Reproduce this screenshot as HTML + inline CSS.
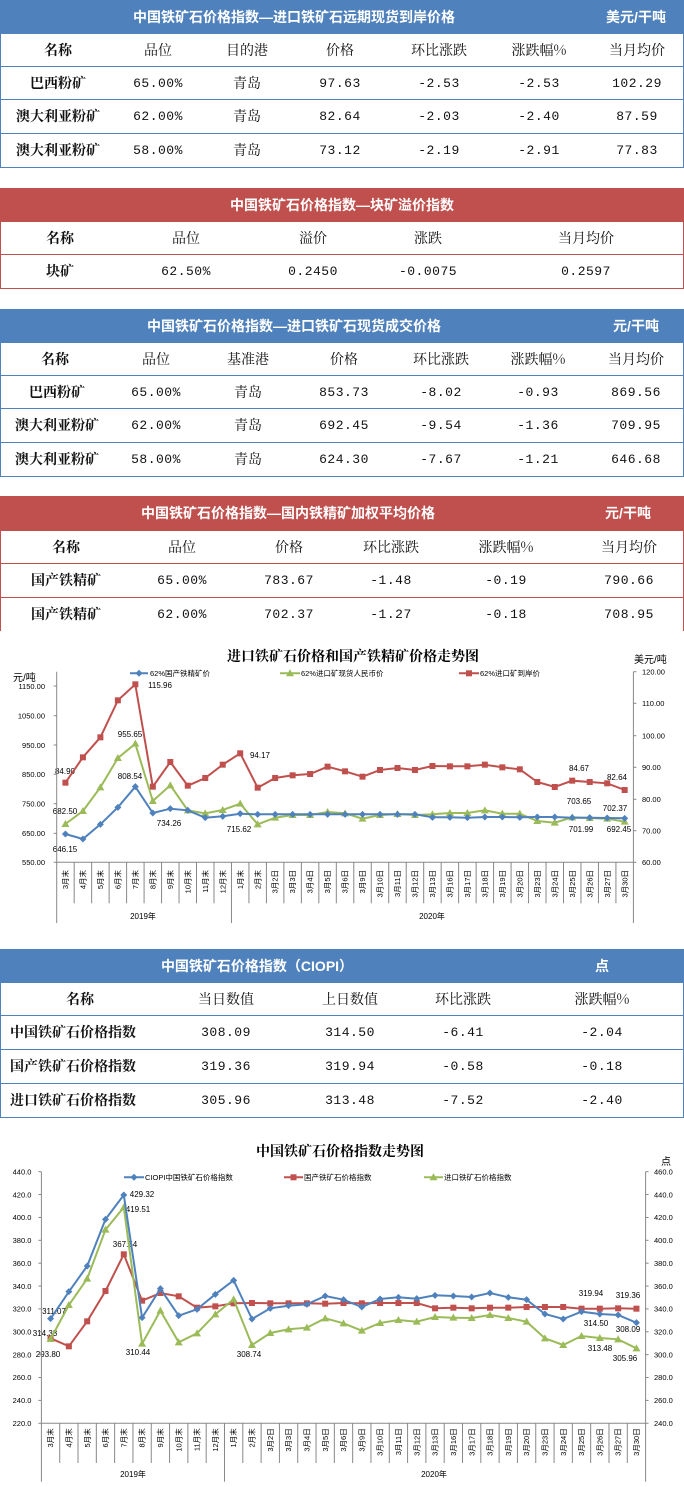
<!DOCTYPE html>
<html><head><meta charset="utf-8">
<style>
*{margin:0;padding:0;box-sizing:border-box}
body{width:684px;height:1487px;background:#fff;position:relative;overflow:hidden;font-family:"Liberation Serif","Noto Serif CJK SC",serif}
.hb{position:absolute;left:0;width:684px;height:34px;color:#fff;font-family:"Liberation Sans","Noto Sans CJK SC",sans-serif;font-weight:bold;font-size:14px}
.blue{background:#4f81bd}.red{background:#c0504d}
.hb span{position:absolute;top:0;line-height:34px;white-space:nowrap;transform:translateX(-50%)}
.row{position:absolute;left:0;width:684px;height:34px;border-left:1px solid;border-right:1px solid;border-bottom:1px solid}
.rb{border-color:#4f81bd}.rr{border-color:#c0504d}
.row span{position:absolute;top:0;line-height:33px;white-space:nowrap;transform:translateX(-50%);font-size:14px;color:#111;font-family:"Noto Serif CJK SC","Noto Sans CJK SC",serif}
.row span.n{font-family:"Liberation Mono","Noto Serif CJK SC",monospace;font-size:13px;letter-spacing:0.5px}
.row span.b{font-weight:bold;font-family:"Noto Serif CJK SC",serif}
.row span.l{transform:none}
svg text{font-family:"Liberation Sans","Noto Sans CJK SC",sans-serif}
</style></head><body>

<!-- Table 1 -->
<div class="hb blue" style="top:0"><span style="left:294px">中国铁矿石价格指数—进口铁矿石远期现货到岸价格</span><span style="left:636px">美元/干吨</span></div>
<div class="row rb" style="top:34px;height:33px"><span class="b" style="left:57px">名称</span><span style="left:157px">品位</span><span style="left:246px">目的港</span><span style="left:339px">价格</span><span style="left:438px">环比涨跌</span><span style="left:538px">涨跌幅%</span><span style="left:636px">当月均价</span></div>
<div class="row rb" style="top:67px;height:33px"><span class="b" style="left:57px">巴西粉矿</span><span class="n" style="left:157px">65.00%</span><span style="left:246px">青岛</span><span class="n" style="left:339px">97.63</span><span class="n" style="left:438px">-2.53</span><span class="n" style="left:538px">-2.53</span><span class="n" style="left:636px">102.29</span></div>
<div class="row rb" style="top:100px;height:34px"><span class="b" style="left:57px">澳大利亚粉矿</span><span class="n" style="left:157px">62.00%</span><span style="left:246px">青岛</span><span class="n" style="left:339px">82.64</span><span class="n" style="left:438px">-2.03</span><span class="n" style="left:538px">-2.40</span><span class="n" style="left:636px">87.59</span></div>
<div class="row rb" style="top:134px;height:34px"><span class="b" style="left:57px">澳大利亚粉矿</span><span class="n" style="left:157px">58.00%</span><span style="left:246px">青岛</span><span class="n" style="left:339px">73.12</span><span class="n" style="left:438px">-2.19</span><span class="n" style="left:538px">-2.91</span><span class="n" style="left:636px">77.83</span></div>

<!-- Table 2 -->
<div class="hb red" style="top:188px"><span style="left:342px">中国铁矿石价格指数—块矿溢价指数</span></div>
<div class="row rr" style="top:222px;height:33px"><span class="b" style="left:59px">名称</span><span style="left:185px">品位</span><span style="left:312px">溢价</span><span style="left:427px">涨跌</span><span style="left:585px">当月均价</span></div>
<div class="row rr" style="top:255px;height:34px"><span class="b" style="left:59px">块矿</span><span class="n" style="left:185px">62.50%</span><span class="n" style="left:312px">0.2450</span><span class="n" style="left:427px">-0.0075</span><span class="n" style="left:585px">0.2597</span></div>

<!-- Table 3 -->
<div class="hb blue" style="top:309px"><span style="left:294px">中国铁矿石价格指数—进口铁矿石现货成交价格</span><span style="left:636px">元/干吨</span></div>
<div class="row rb" style="top:343px;height:33px"><span class="b" style="left:54px">名称</span><span style="left:155px">品位</span><span style="left:247px">基准港</span><span style="left:343px">价格</span><span style="left:440px">环比涨跌</span><span style="left:537px">涨跌幅%</span><span style="left:635px">当月均价</span></div>
<div class="row rb" style="top:376px;height:33px"><span class="b" style="left:56px">巴西粉矿</span><span class="n" style="left:155px">65.00%</span><span style="left:247px">青岛</span><span class="n" style="left:343px">853.73</span><span class="n" style="left:440px">-8.02</span><span class="n" style="left:537px">-0.93</span><span class="n" style="left:635px">869.56</span></div>
<div class="row rb" style="top:409px;height:34px"><span class="b" style="left:56px">澳大利亚粉矿</span><span class="n" style="left:155px">62.00%</span><span style="left:247px">青岛</span><span class="n" style="left:343px">692.45</span><span class="n" style="left:440px">-9.54</span><span class="n" style="left:537px">-1.36</span><span class="n" style="left:635px">709.95</span></div>
<div class="row rb" style="top:443px;height:34px"><span class="b" style="left:56px">澳大利亚粉矿</span><span class="n" style="left:155px">58.00%</span><span style="left:247px">青岛</span><span class="n" style="left:343px">624.30</span><span class="n" style="left:440px">-7.67</span><span class="n" style="left:537px">-1.21</span><span class="n" style="left:635px">646.68</span></div>

<!-- Table 4 -->
<div class="hb red" style="top:496px;height:35px"><span style="left:288px;line-height:35px">中国铁矿石价格指数—国内铁精矿加权平均价格</span><span style="left:628px;line-height:35px">元/干吨</span></div>
<div class="row rr" style="top:531px;height:33px"><span class="b" style="left:65px">名称</span><span style="left:181px">品位</span><span style="left:288px">价格</span><span style="left:390px">环比涨跌</span><span style="left:505px">涨跌幅%</span><span style="left:628px">当月均价</span></div>
<div class="row rr" style="top:564px;height:34px"><span class="b" style="left:65px">国产铁精矿</span><span class="n" style="left:181px">65.00%</span><span class="n" style="left:288px">783.67</span><span class="n" style="left:390px">-1.48</span><span class="n" style="left:505px">-0.19</span><span class="n" style="left:628px">790.66</span></div>
<div class="row rr" style="top:598px;height:33px;border-bottom:none"><span class="b" style="left:65px">国产铁精矿</span><span class="n" style="left:181px">62.00%</span><span class="n" style="left:288px">702.37</span><span class="n" style="left:390px">-1.27</span><span class="n" style="left:505px">-0.18</span><span class="n" style="left:628px">708.95</span></div>

<!-- Chart 1 -->
<svg id="c1" style="position:absolute;left:0;top:630px" width="684" height="310" viewBox="0 0 684 310">
<text x="353" y="31" text-anchor="middle" font-size="14" font-weight="bold" style="font-family:'Noto Serif CJK SC',serif">进口铁矿石价格和国产铁精矿价格走势图</text>
<text x="13" y="51" font-size="10">元/吨</text>
<text x="634" y="33" font-size="10">美元/吨</text>
<g font-size="7.5" text-anchor="end">
<text x="45" y="59">1150.00</text><text x="45" y="88.5">1050.00</text><text x="45" y="118">950.00</text><text x="45" y="147">850.00</text><text x="45" y="176.5">750.00</text><text x="45" y="206">650.00</text><text x="45" y="235">550.00</text>
</g>
<g font-size="7.5">
<text x="642" y="44.5">120.00</text><text x="642" y="76">110.00</text><text x="642" y="108.5">100.00</text><text x="642" y="140">90.00</text><text x="642" y="172">80.00</text><text x="642" y="203.5">70.00</text><text x="642" y="235">60.00</text>
</g>
<g font-size="7.5" class="cat">
<text>3月末</text><text>4月末</text><text>5月末</text><text>6月末</text><text>7月末</text><text>8月末</text><text>9月末</text><text>10月末</text><text>11月末</text><text>12月末</text><text>1月末</text><text>2月末</text><text>3月2日</text><text>3月3日</text><text>3月4日</text><text>3月5日</text><text>3月6日</text><text>3月9日</text><text>3月10日</text><text>3月11日</text><text>3月12日</text><text>3月13日</text><text>3月16日</text><text>3月17日</text><text>3月18日</text><text>3月19日</text><text>3月20日</text><text>3月23日</text><text>3月24日</text><text>3月25日</text><text>3月26日</text><text>3月27日</text><text>3月30日</text>
</g>
<text x="143" y="289" font-size="8" text-anchor="middle">2019年</text>
<text x="432" y="289" font-size="8" text-anchor="middle">2020年</text>
<g font-size="7.5">
<text x="150" y="46">62%国产铁精矿价</text>
<text x="301" y="46">62%进口矿现货人民币价</text>
<text x="480" y="46">62%进口矿到岸价</text>
</g>
<g font-size="8" text-anchor="middle">
<text x="65" y="144">84.90</text><text x="65" y="184">682.50</text><text x="65" y="222">646.15</text>
<text x="130" y="107">955.65</text><text x="160" y="58">115.96</text><text x="130" y="149">808.54</text>
<text x="169" y="196">734.26</text><text x="260" y="128">94.17</text><text x="239" y="202">715.62</text>
<text x="579" y="141">84.67</text><text x="579" y="174">703.65</text><text x="581" y="202">701.99</text>
<text x="617" y="150">82.64</text><text x="615" y="181">702.37</text><text x="619" y="202">692.45</text>
</g>
</svg>

<!-- Table 5 -->
<div class="hb blue" style="top:949px"><span style="left:257px">中国铁矿石价格指数（CIOPI）</span><span style="left:602px">点</span></div>
<div class="row rb" style="top:983px;height:33px"><span class="b" style="left:79px">名称</span><span style="left:225px">当日数值</span><span style="left:349px">上日数值</span><span style="left:462px">环比涨跌</span><span style="left:601px">涨跌幅%</span></div>
<div class="row rb" style="top:1016px;height:34px"><span class="b l" style="left:9px">中国铁矿石价格指数</span><span class="n" style="left:225px">308.09</span><span class="n" style="left:349px">314.50</span><span class="n" style="left:462px">-6.41</span><span class="n" style="left:601px">-2.04</span></div>
<div class="row rb" style="top:1050px;height:34px"><span class="b l" style="left:9px">国产铁矿石价格指数</span><span class="n" style="left:225px">319.36</span><span class="n" style="left:349px">319.94</span><span class="n" style="left:462px">-0.58</span><span class="n" style="left:601px">-0.18</span></div>
<div class="row rb" style="top:1084px;height:34px"><span class="b l" style="left:9px">进口铁矿石价格指数</span><span class="n" style="left:225px">305.96</span><span class="n" style="left:349px">313.48</span><span class="n" style="left:462px">-7.52</span><span class="n" style="left:601px">-2.40</span></div>

<!-- Chart 2 -->
<svg id="c2" style="position:absolute;left:0;top:1135px" width="684" height="352" viewBox="0 0 684 352">
<text x="340" y="21" text-anchor="middle" font-size="14" font-weight="bold" style="font-family:'Noto Serif CJK SC',serif">中国铁矿石价格指数走势图</text>
<text x="666" y="30" font-size="10" text-anchor="middle">点</text>
<g font-size="7.5" text-anchor="end" class="tl">
<text>440.0</text><text>420.0</text><text>400.0</text><text>380.0</text><text>360.0</text><text>340.0</text><text>320.0</text><text>300.0</text><text>280.0</text><text>260.0</text><text>240.0</text><text>220.0</text>
</g>
<g font-size="7.5" class="tr">
<text>460.0</text><text>440.0</text><text>420.0</text><text>400.0</text><text>380.0</text><text>360.0</text><text>340.0</text><text>320.0</text><text>300.0</text><text>280.0</text><text>260.0</text><text>240.0</text>
</g>
<g font-size="7.5" class="cat">
<text>3月末</text><text>4月末</text><text>5月末</text><text>6月末</text><text>7月末</text><text>8月末</text><text>9月末</text><text>10月末</text><text>11月末</text><text>12月末</text><text>1月末</text><text>2月末</text><text>3月2日</text><text>3月3日</text><text>3月4日</text><text>3月5日</text><text>3月6日</text><text>3月9日</text><text>3月10日</text><text>3月11日</text><text>3月12日</text><text>3月13日</text><text>3月16日</text><text>3月17日</text><text>3月18日</text><text>3月19日</text><text>3月20日</text><text>3月23日</text><text>3月24日</text><text>3月25日</text><text>3月26日</text><text>3月27日</text><text>3月30日</text>
</g>
<text x="133" y="342" font-size="8" text-anchor="middle">2019年</text>
<text x="434" y="342" font-size="8" text-anchor="middle">2020年</text>
<g font-size="7.5">
<text x="145" y="45">CIOPI中国铁矿石价格指数</text>
<text x="304" y="45">国产铁矿石价格指数</text>
<text x="444" y="45">进口铁矿石价格指数</text>
</g>
<g font-size="8" text-anchor="middle">
<text x="54" y="179">311.07</text><text x="45" y="201">314.33</text><text x="48" y="222">293.80</text>
<text x="142" y="62">429.32</text><text x="138" y="77">419.51</text><text x="125" y="112">367.54</text>
<text x="138" y="220">310.44</text><text x="249" y="222">308.74</text>
<text x="591" y="161">319.94</text><text x="596" y="191">314.50</text><text x="600" y="216">313.48</text>
<text x="625" y="226">305.96</text><text x="628" y="163">319.36</text><text x="628" y="197">308.09</text>
</g>
</svg>

<script>
var NS="http://www.w3.org/2000/svg";
function el(p,t,a){var e=document.createElementNS(NS,t);for(var k in a)e.setAttribute(k,a[k]);p.appendChild(e);return e;}
function mk(g,type,x,y,c){
 if(type=='s')el(g,'rect',{x:x-3,y:y-3,width:6,height:6,fill:c});
 else if(type=='d')el(g,'polygon',{points:(x)+','+(y-3.5)+' '+(x+3.5)+','+y+' '+x+','+(y+3.5)+' '+(x-3.5)+','+y,fill:c});
 else el(g,'polygon',{points:x+','+(y-4)+' '+(x+4)+','+(y+3)+' '+(x-4)+','+(y+3),fill:c});
}
function series(svg,x0,w,ys,c,type){
 var g=el(svg,'g',{});var pts=[];
 ys.forEach(function(zy,i){pts.push((x0+w*(i+0.5)).toFixed(1)+','+(zy/3).toFixed(1));});
 el(g,'polyline',{points:pts.join(' '),fill:'none',stroke:c,'stroke-width':2});
 ys.forEach(function(zy,i){mk(g,type,x0+w*(i+0.5),zy/3,c);});
}
function frame(svg,x0,x1,top,plotB,catB,botB,ticksL,ticksR){
 var g=el(svg,'g',{stroke:'#888','stroke-width':1,fill:'none'});
 el(g,'line',{x1:x0,y1:top,x2:x0,y2:botB});
 el(g,'line',{x1:x1,y1:top,x2:x1,y2:botB});
 el(g,'line',{x1:x0,y1:plotB,x2:x1,y2:plotB});
 var w=(x1-x0)/33;
 for(var k=1;k<33;k++){var x=x0+w*k;el(g,'line',{x1:x,y1:plotB,x2:x,y2:(k==10?botB:catB)});}
 ticksL.forEach(function(y){el(g,'line',{x1:x0-3,y1:y,x2:x0,y2:y});});
 ticksR.forEach(function(y){el(g,'line',{x1:x1,y1:y,x2:x1+3,y2:y});});
 return w;
}
function cats(svg,x0,w,top){
 var ts=svg.querySelectorAll('.cat text');
 ts.forEach(function(t,i){var x=x0+w*(i+0.5)+2.6;t.setAttribute('transform','translate('+x.toFixed(1)+','+top+') rotate(-90)');t.setAttribute('text-anchor','end');});
}
var B='#4f81bd',R='#c0504d',G='#9bbb59';
// chart 1
var c1=document.getElementById('c1');
var w1=frame(c1,56.7,633.4,41.7,232.3,273.3,293,[56,85.7,115,144.3,173.7,203.3,232.3],[41.7,73.3,105.7,137.3,169.3,200.7,232.3]);
cats(c1,56.7,w1,240);
series(c1,56.7,w1,[458,382,322,211,163,470,396,467,444,404,370,473,444,436,432,410,424,440,420,414,420,408,409,409,404,412,418,456,471,452,456,460,480],R,'s');
series(c1,56.7,w1,[582,543,472,384,341,513,466,541,550,540,521,583,563,555,555,546,550,566,555,552,555,553,549,549,541,551,551,573,578,562,564,566,575],G,'t');
series(c1,56.7,w1,[612,627,583,532,470,549,536,541,563,559,551,553,553,553,553,553,553,553,553,553,553,562,562,563,561,561,562,561,561,563,563,564,565],B,'d');
// legend 1
[[130,148,B,'d'],[280,300,G,'t'],[459,479,R,'s']].forEach(function(l){el(c1,'line',{x1:l[0],y1:43.3,x2:l[1],y2:43.3,stroke:l[2],'stroke-width':2});mk(c1,l[3],(l[0]+l[1])/2,43.3,l[2]);});
// chart 2
var c2=document.getElementById('c2');
var tys=[];for(var k=0;k<12;k++)tys.push(36.7+k*22.87);
var w2=frame(c2,41.4,645.6,36.7,288.3,328,346.7,tys,tys);
c2.querySelectorAll('.tl text').forEach(function(t,i){t.setAttribute('x',31.4);t.setAttribute('y',tys[i]+2.7);});
c2.querySelectorAll('.tr text').forEach(function(t,i){t.setAttribute('x',654);t.setAttribute('y',tys[i]+2.7);});
cats(c2,41.4,w2,293.3);
series(c2,41.4,w2,[610,634,559,468,358,497,474,484,518,514,505,504,505,505,505,506,504,505,504,504,504,520,518,520,518,518,516,516,516,521,521,520,521],R,'s');
series(c2,41.4,w2,[612,510,431,284,217,626,527,622,595,538,493,630,594,583,578,550,565,587,564,555,560,546,548,549,540,549,560,610,630,603,609,613,640],G,'t');
series(c2,41.4,w2,[551,470,393,253,180,548,461,542,523,478,436,552,520,512,508,483,494,516,492,487,491,481,483,486,474,487,494,537,552,530,537,540,563],B,'d');
[[124,144,B,'d'],[284,303,R,'s'],[424,443,G,'t']].forEach(function(l){el(c2,'line',{x1:l[0],y1:42.3,x2:l[1],y2:42.3,stroke:l[2],'stroke-width':2});mk(c2,l[3],(l[0]+l[1])/2,42.3,l[2]);});
</script>
</body></html>
